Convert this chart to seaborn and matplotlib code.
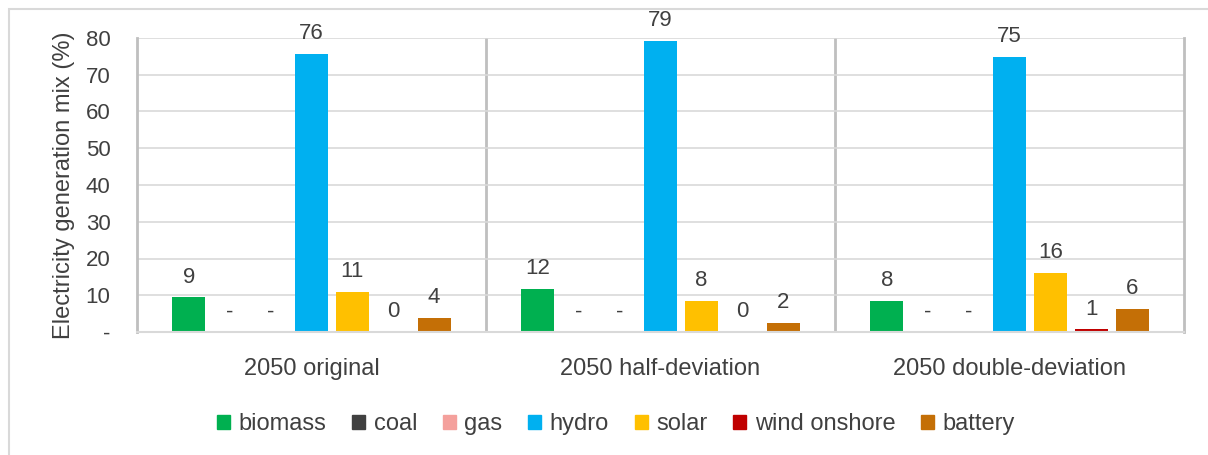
import matplotlib
matplotlib.use("Agg")
import matplotlib.pyplot as plt
import matplotlib.patches as mpatches
import seaborn as sns
import pandas as pd

scenarios = ["2050 original", "2050 half-deviation", "2050 double-deviation"]
techs = ["biomass", "coal", "gas", "hydro", "solar", "wind onshore", "battery"]
biomass = [9.4, 11.8, 8.4]
coal = [0.0, 0.0, 0.0]
gas = [0.0, 0.0, 0.0]
hydro = [75.7, 79.3, 74.8]
solar = [10.9, 8.4, 16.1]
wind_onshore = [0.2, 0.1, 0.7]
battery = [3.8, 2.4, 6.3]
colors = ["#00B050", "#404040", "#F4A09C", "#00B0F0", "#FFC000", "#C00000", "#C46F06"]

series = [biomass, coal, gas, hydro, solar, wind_onshore, battery]
rows = []
for t, vals in zip(techs, series):
    for s, v in zip(scenarios, vals):
        rows.append({"scenario": s, "tech": t, "value": v})
df = pd.DataFrame(rows)

sns.set_style("white")
plt.rcParams["font.family"] = ["Liberation Sans", "DejaVu Sans"]
txt = "#404040"

fig = plt.figure(figsize=(12.08, 4.55), dpi=100)
ax = fig.add_axes([137/1208, 1-332/455, (1184-137)/1208, (332-38)/455])

sns.barplot(data=df, x="scenario", y="value", hue="tech", order=scenarios,
            hue_order=techs, palette=dict(zip(techs, colors)), width=0.82, gap=0.2,
            saturation=1, ax=ax, legend=False, edgecolor="none", linewidth=0, errorbar=None)

ax.set_ylim(0, 80)
ax.set_xlim(-0.5, 2.5)
ax.set_yticks(range(0, 81, 10))
ax.set_yticklabels(["-"] + [str(v) for v in range(10, 81, 10)])
ax.yaxis.grid(True, color="#d9d9d9", linewidth=1.2)
ax.set_axisbelow(True)
ax.spines["top"].set_visible(False)
for sp in ["left", "right"]:
    ax.spines[sp].set_color("#bfbfbf")
    ax.spines[sp].set_linewidth(2)
ax.spines["bottom"].set_color("#d9d9d9")
ax.spines["bottom"].set_linewidth(1.5)
for xs in [0.5, 1.5]:
    ax.axvline(xs, color="#bfbfbf", linewidth=2, zorder=0.5)

ax.tick_params(axis="y", length=0, labelsize=16, labelcolor=txt, pad=19)
ax.tick_params(axis="x", length=0, labelsize=17, labelcolor=txt, pad=19)
ax.set_xlabel("")
ax.set_ylabel("Electricity generation mix (%)", fontsize=17, color=txt, labelpad=8)

for cont in ax.containers:
    labels = []
    for bar in cont:
        v = bar.get_height()
        labels.append("-" if v == 0 else f"{v:.0f}")
    ax.bar_label(cont, labels=labels, padding=7, fontsize=16, color=txt)

handles = [mpatches.Patch(color=c, label=t) for t, c in zip(techs, colors)]
fig.legend(handles=handles, loc="center", bbox_to_anchor=(616/1208, 1-424/455), ncol=7,
           frameon=False, fontsize=17, labelcolor=txt, handlelength=0.55, handleheight=0.55,
           handletextpad=0.35, columnspacing=1.1)

fig.patches.append(mpatches.Rectangle((9/1208, -0.1), 1.2, 1-9/455+0.1, transform=fig.transFigure,
                                      fill=False, edgecolor="#d9d9d9", linewidth=1.5))

fig.savefig("out.png", dpi=100)
